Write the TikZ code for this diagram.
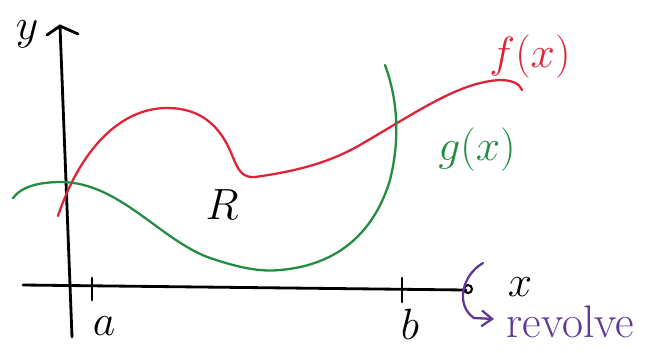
\documentclass[tikz,border=0pt]{standalone}
\usetikzlibrary{arrows.meta}
\definecolor{fred}{RGB}{222,35,55}
\definecolor{ggreen}{RGB}{35,140,65}
\definecolor{revpurple}{RGB}{95,55,150}
\tikzset{
  axis/.style={line width=1.6pt, line cap=round},
  curve/.style={line width=1.3pt, line cap=round},
  lbl/.style={inner sep=0pt, font=\fontsize{24}{28}\selectfont}
}
\begin{document}
\begin{tikzpicture}[x=0.02cm,y=-0.02cm]
\useasboundingbox (0,0) rectangle (661,352);
% axes
\coordinate (yfoot) at (72,337);
\coordinate (ytop) at (60,26);
\coordinate (xstart) at (23,285);
\coordinate (xend) at (466,290);
\draw[axis] (yfoot) -- (ytop);
\draw[axis] (47,35) -- (ytop) -- (78,34);
\draw[axis] (xstart) -- (xend);
\draw[line width=1.2pt] (468,289) circle (4);
\node[lbl] (ylab) at (27,34) {$y$};
\node[lbl] (xlab) at (520,287) {$x$};
% ticks
\draw[axis] (92,278) -- (92,300);
\draw[axis] (402,278) -- (402,302);
\node[lbl] (alab) at (104,326) {$a$};
\node[lbl] (blab) at (410,324) {$b$};
% f(x)
\draw[curve, fred] (58,216) .. controls (80,150) and (120,108) .. (167,108)
  .. controls (200,108) and (220,125) .. (232,155)
  .. controls (238,170) and (242,178) .. (255,177)
  .. controls (290,172) and (325,165) .. (360,145)
  .. controls (420,110) and (460,82) .. (500,80)
  .. controls (512,80) and (520,84) .. (522,90);
\node[lbl, text=fred] (flab) at (530,57) {$f(x)$};
% g(x)
\draw[curve, ggreen] (13,198) .. controls (22,186) and (40,182) .. (62,182)
  .. controls (120,183) and (160,240) .. (210,258)
  .. controls (240,268) and (260,272) .. (280,270)
  .. controls (340,265) and (375,230) .. (390,180)
  .. controls (400,140) and (398,100) .. (385,65);
\node[lbl, text=ggreen] (glab) at (477,150) {$g(x)$};
% region
\node[lbl] (rlab) at (222,205) {$R$};
% revolve
\draw[curve, revpurple, -{Straight Barb[length=6pt,width=9pt]}] (483,263) .. controls (462,275) and (455,305) .. (474,318) -- (494,319);
\node[lbl, text=revpurple, anchor=west, font=\fontsize{26}{30}\selectfont] (revlab) at (506,322) {revolve};
\end{tikzpicture}
\end{document}
